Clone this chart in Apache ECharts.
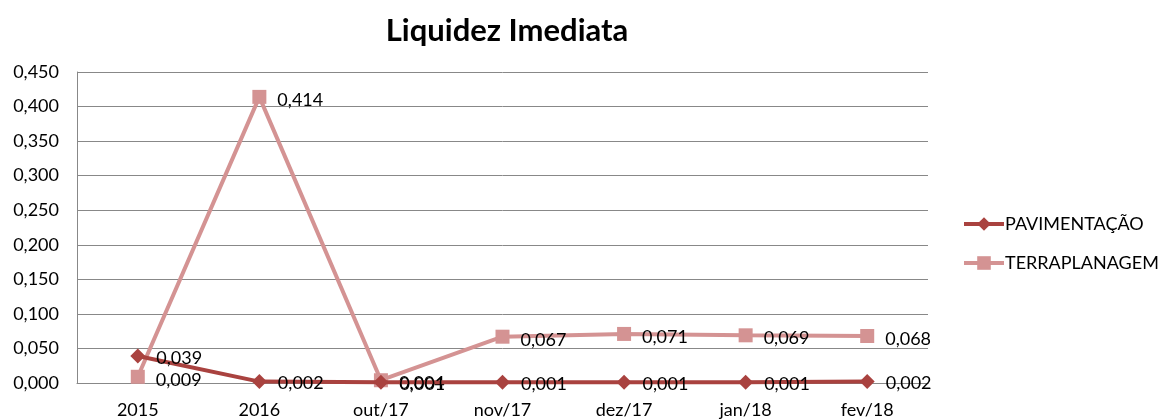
<!DOCTYPE html>
<html>
<head>
<meta charset="utf-8">
<script src="https://cdn.jsdelivr.net/npm/echarts@6/dist/echarts.min.js"></script>
<style>
  html, body { margin: 0; padding: 0; background: #fff; }
  #chart { width: 1159px; height: 419px; }
</style>
</head>
<body>
<div id="chart"></div>
<script>
// periodos no eixo X
var categorias = ['2015', '2016', 'out/17', 'nov/17', 'dez/17', 'jan/18', 'fev/18']
// valores das series
var pavimentacao = [0.039, 0.002, 0.001, 0.001, 0.001, 0.001, 0.002]
var terraplanagem = [0.009, 0.414, 0.004, 0.067, 0.071, 0.069, 0.068]

var fonte = 'Lato, "Open Sans", sans-serif'

function rotulo(p) {
  return p.value.toFixed(3).replace('.', ',')
}

var chart = echarts.init(document.getElementById('chart'))
chart.setOption({
  backgroundColor: '#fff',
  animation: false,
  title: {
    text: 'Liquidez Imediata',
    left: 502,
    textAlign: 'center',
    top: 10,
    textStyle: {
      fontFamily: fonte,
      fontSize: 31,
      fontWeight: 'bold',
      color: '#000'
    }
  },
  grid: {
    left: 77,
    right: 231,
    top: 72,
    bottom: 35
  },
  legend: {
    orient: 'vertical',
    left: 957,
    top: 210,
    itemGap: 21,
    itemWidth: 40,
    itemHeight: 17,
    textStyle: {
      fontFamily: fonte,
      fontSize: 18,
      color: '#000',
      padding: [0, 0, 0, -4]
    },
    lineStyle: { width: 4 },
    data: ['PAVIMENTAÇÃO', 'TERRAPLANAGEM']
  },
  xAxis: {
    type: 'category',
    boundaryGap: true,
    data: categorias,
    axisLine: { lineStyle: { color: '#888', width: 1 } },
    axisTick: { show: false },
    axisLabel: {
      fontFamily: fonte,
      fontSize: 18,
      color: '#000',
      margin: 18,
      interval: 0
    }
  },
  yAxis: {
    type: 'value',
    min: 0,
    max: 0.45,
    interval: 0.05,
    axisLine: { show: true, lineStyle: { color: '#888', width: 1 } },
    axisTick: { show: false },
    splitLine: { lineStyle: { color: '#888', width: 1 } },
    axisLabel: {
      fontFamily: fonte,
      fontSize: 18,
      color: '#000',
      margin: 18,
      formatter: function (v) { return v.toFixed(3).replace('.', ',') }
    }
  },
  series: [
    {
      name: 'PAVIMENTAÇÃO',
      type: 'line',
      data: pavimentacao,
      symbol: 'diamond',
      symbolSize: 15,
      z: 3,
      lineStyle: { color: '#A9423F', width: 4 },
      itemStyle: { color: '#A9423F' },
      label: {
        show: true,
        position: 'right',
        distance: 11,
        offset: [0, 2],
        fontFamily: fonte,
        fontSize: 18,
        color: '#000',
        formatter: rotulo
      }
    },
    {
      name: 'TERRAPLANAGEM',
      type: 'line',
      data: terraplanagem,
      symbol: 'rect',
      symbolSize: 14,
      z: 2,
      lineStyle: { color: '#D49393', width: 4 },
      itemStyle: { color: '#D49393' },
      label: {
        show: true,
        position: 'right',
        distance: 11,
        offset: [0, 3],
        fontFamily: fonte,
        fontSize: 18,
        color: '#000',
        formatter: rotulo
      }
    }
  ]
})
</script>
</body>
</html>
